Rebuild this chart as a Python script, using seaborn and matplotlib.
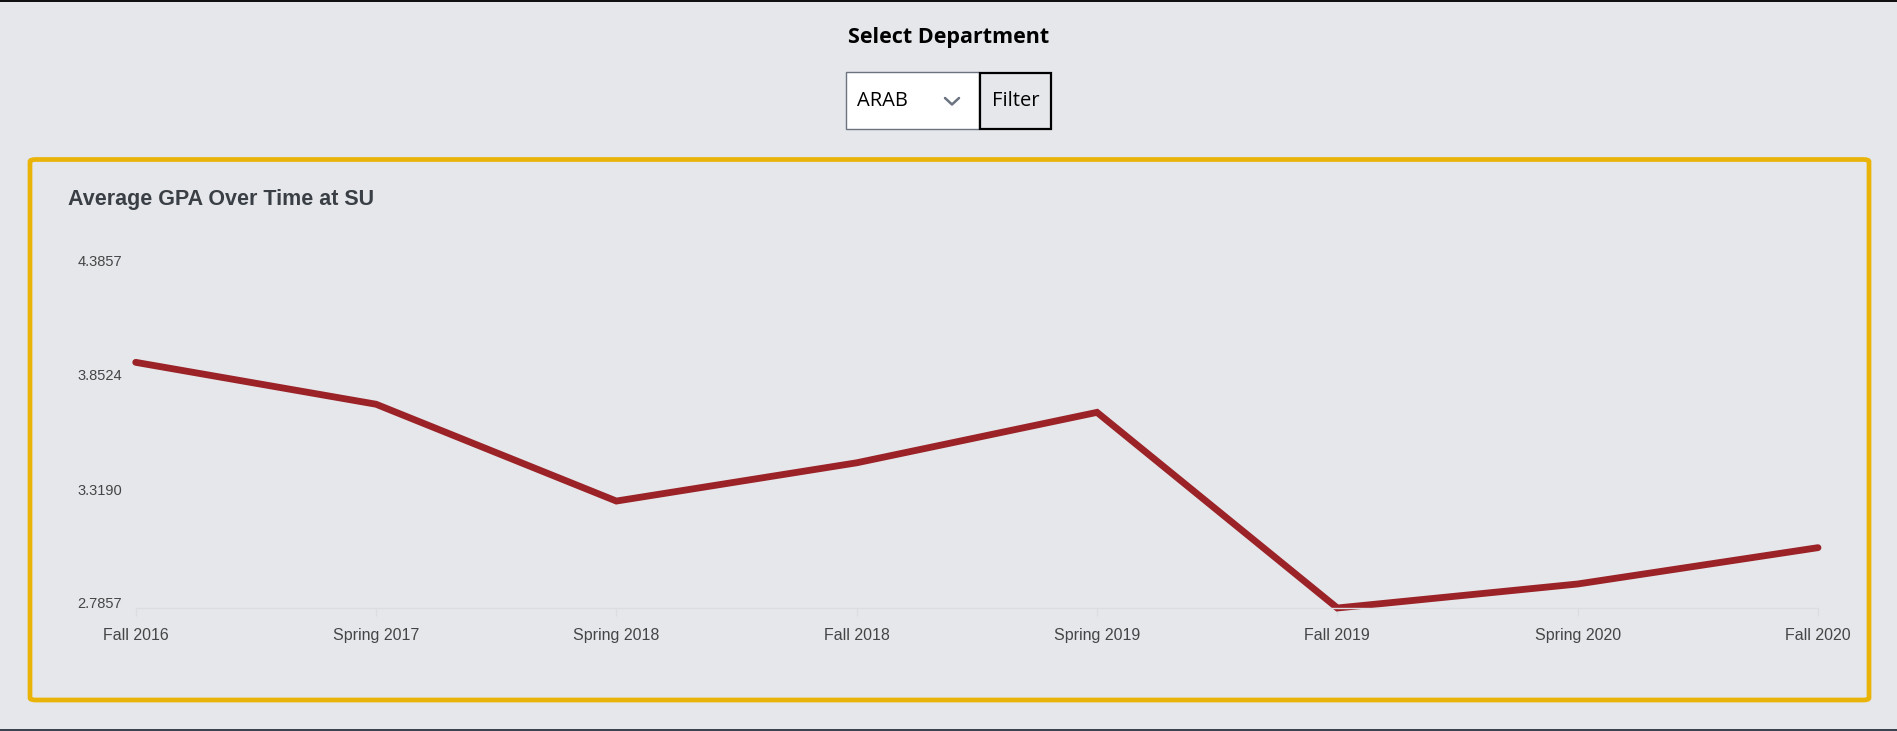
import matplotlib
matplotlib.use("Agg")
import matplotlib.pyplot as plt
import seaborn as sns
import pandas as pd
from matplotlib.patches import FancyBboxPatch, Rectangle
from matplotlib.lines import Line2D
from matplotlib.transforms import ScaledTranslation

# Data
terms = ["Fall 2016", "Spring 2017", "Spring 2018", "Fall 2018",
         "Spring 2019", "Fall 2019", "Spring 2020", "Fall 2020"]
avg_gpa = [3.935, 3.739, 3.286, 3.465, 3.701, 2.7857, 2.898, 3.068]
y_ticks = [2.7857, 3.3190, 3.8524, 4.3857]
department = "ARAB"

W, H = 1897, 731
BG = "#e5e7eb"
UI_FONT = ["Open Sans", "Noto Sans", "DejaVu Sans"]

sns.set_theme(style="white")
plt.rcParams["font.family"] = ["Liberation Sans", "DejaVu Sans"]

fig = plt.figure(figsize=(W / 100, H / 100), dpi=100, facecolor=BG)


def fx(x):
    return x / W


def fy(y):
    return 1 - y / H


# page chrome: top / bottom dark rules
fig.patches.append(Rectangle((0, fy(2)), 1, 2 / H, transform=fig.transFigure,
                             facecolor="#111111", edgecolor="none"))
fig.patches.append(Rectangle((0, 0), 1, 2.5 / H, transform=fig.transFigure,
                             facecolor="#3b4250", edgecolor="none"))

# header + department selector
fig.text(0.5, fy(38), "Select Department", ha="center", va="center",
         fontsize=15.5, fontweight="bold", color="#000000", family=UI_FONT)
fig.patches.append(Rectangle((fx(845.5), fy(129)), (979 - 845.5) / W, (129 - 72.5) / H,
                             transform=fig.transFigure, facecolor="white",
                             edgecolor="#6b7280", linewidth=1))
fig.patches.append(Rectangle((fx(980), fy(128.5)), (1051 - 980) / W, (128.5 - 73) / H,
                             transform=fig.transFigure, facecolor=BG,
                             edgecolor="#000000", linewidth=1.6))
fig.text(fx(857), fy(101), department, ha="left", va="center", fontsize=14.5,
         color="#000000", family=UI_FONT)
fig.text(fx(1016), fy(101), "Filter", ha="center", va="center", fontsize=14.5,
         color="#000000", family=UI_FONT)
fig.lines.append(Line2D([fx(945), fx(952), fx(959)], [fy(98), fy(104.5), fy(98)],
                        transform=fig.transFigure, color="#6b7280", linewidth=1.8))

# yellow card border
fig.patches.append(FancyBboxPatch((fx(30), fy(700)), (1869 - 30) / W, (700 - 159.5) / H,
                                  boxstyle="round,pad=0,rounding_size=0.003",
                                  transform=fig.transFigure, facecolor="none",
                                  edgecolor="#eab308", linewidth=3.4))

fig.text(fx(68), fy(199), "Average GPA Over Time at SU", ha="left", va="center",
         fontsize=15.5, fontweight="bold", color="#3a3f45")

# chart
ax = fig.add_axes([fx(135.7), fy(608), (1818 - 135.7) / W, (608 - 266) / H])
ax.set_facecolor("none")
df = pd.DataFrame({"term": terms, "gpa": avg_gpa})
sns.lineplot(data=df, x="term", y="gpa", sort=False, ax=ax, color="#9b2226",
             linewidth=4.9, solid_joinstyle="miter", clip_on=False)

ax.set_xlim(0, len(terms) - 1)
ax.set_ylim(y_ticks[0], y_ticks[-1])
ax.set_yticks(y_ticks)
ax.set_yticklabels([f"{v:.4f}" for v in y_ticks])
ax.set_xlabel("")
ax.set_ylabel("")

for s in ["top", "right", "left"]:
    ax.spines[s].set_visible(False)
ax.spines["bottom"].set_color("#dcdde0")
ax.spines["bottom"].set_linewidth(1)

ax.tick_params(axis="x", bottom=True, length=5.8, width=1, color="#dcdde0",
               pad=8.5, labelsize=11.5, labelcolor="#454545")
ax.tick_params(axis="y", left=False, length=0, pad=10, labelsize=10.5,
               labelcolor="#454545")
shift = ScaledTranslation(0, 0.05, fig.dpi_scale_trans)
for lbl in ax.get_yticklabels():
    lbl.set_transform(lbl.get_transform() + shift)

fig.savefig("out.png", dpi=100, facecolor=BG)
